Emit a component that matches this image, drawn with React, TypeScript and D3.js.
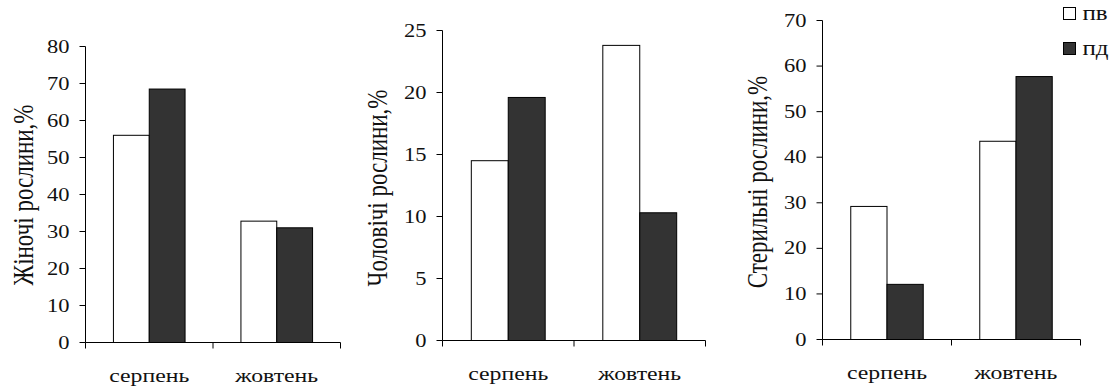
import * as d3 from 'd3';

// дані
const categories = ['серпень', 'жовтень'];
const seriesNames = ['пв', 'пд'];

const femalePv = [56, 32.8];
const femalePd = [68.5, 31.0];
const malePv = [14.5, 23.8];
const malePd = [19.6, 10.3];
const sterilePv = [29.2, 43.5];
const sterilePd = [12.1, 57.7];

const femaleTicks = [0, 10, 20, 30, 40, 50, 60, 70, 80];
const maleTicks = [0, 5, 10, 15, 20, 25];
const sterileTicks = [0, 10, 20, 30, 40, 50, 60, 70];

const FONT = '"Liberation Serif", "Times New Roman", serif';
const SX = 1.25; // картинка розтягнута по горизонталі
const COLORS = ['#ffffff', '#333333'];

const panels = [
  {
    title: 'Жіночі рослини,%',
    values: [femalePv, femalePd],
    ticks: femaleTicks,
    left: 85.5, right: 340.5, top: 46.5, bottom: 342.5,
    titleX: 23, titleY: 195,
  },
  {
    title: 'Чоловічі рослини,%',
    values: [malePv, malePd],
    ticks: maleTicks,
    left: 442.5, right: 705.5, top: 30.5, bottom: 340.5,
    titleX: 377, titleY: 188,
  },
  {
    title: 'Стерильні рослини,%',
    values: [sterilePv, sterilePd],
    ticks: sterileTicks,
    left: 822.5, right: 1080.5, top: 20.5, bottom: 339.5,
    titleX: 757, titleY: 182,
  },
];

function Panel({ p }: { p: (typeof panels)[0] }) {
  const y = d3
    .scaleLinear()
    .domain([0, d3.max(p.ticks) as number])
    .range([p.bottom, p.top]);
  const x = d3.scaleBand<string>().domain(categories).range([p.left, p.right]);
  const xs = d3
    .scaleBand<string>()
    .domain(seriesNames)
    .range([0, x.bandwidth()])
    .paddingInner(0)
    .paddingOuter(0.78);
  const edges = [...categories.map((c) => x(c) as number), p.right];

  return (
    <g>
      {/* бари */}
      {categories.map((c, ci) =>
        seriesNames.map((s, si) => (
          <rect
            key={c + s}
            x={(x(c) as number) + (xs(s) as number)}
            y={y(p.values[si][ci])}
            width={xs.bandwidth()}
            height={p.bottom - y(p.values[si][ci])}
            fill={COLORS[si]}
            stroke="#000"
            strokeWidth={1}
          />
        )),
      )}

      {/* вісь Y */}
      <line x1={p.left} x2={p.left} y1={p.top} y2={p.bottom} stroke="#000" />
      {p.ticks.map((t) => (
        <g key={t}>
          <line x1={p.left - 6} x2={p.left} y1={y(t)} y2={y(t)} stroke="#000" />
          <text
            transform={`translate(${p.left - 16},${y(t)}) scale(${SX},1)`}
            textAnchor="end"
            dy="0.34em"
            fontSize={18}
            fontFamily={FONT}
            fill="#111"
          >
            {t}
          </text>
        </g>
      ))}

      {/* вісь X */}
      <line x1={p.left} x2={p.right} y1={p.bottom} y2={p.bottom} stroke="#000" />
      {edges.map((e, i) => (
        <line key={i} x1={e} x2={e} y1={p.bottom} y2={p.bottom + 6} stroke="#000" />
      ))}
      {categories.map((c) => (
        <text
          key={c}
          transform={`translate(${(x(c) as number) + x.bandwidth() / 2},${p.bottom + 39}) scale(${SX},1)`}
          textAnchor="middle"
          fontSize={19}
          fontFamily={FONT}
          fill="#111"
        >
          {c}
        </text>
      ))}

      {/* назва осі */}
      <text
        transform={`translate(${p.titleX},${p.titleY}) scale(${SX},1) rotate(-90)`}
        textAnchor="middle"
        dy="0.35em"
        fontSize={23}
        fontFamily={FONT}
        fill="#111"
      >
        {p.title}
      </text>
    </g>
  );
}

export default function App() {
  return (
    <svg
      width={1112}
      height={389}
      style={{ position: 'absolute', left: 0, top: 0, background: '#fff' }}
    >
      {panels.map((p) => (
        <Panel key={p.title} p={p} />
      ))}
      {/* легенда */}
      {seriesNames.map((s, i) => (
        <g key={s} transform={`translate(1063.5,${7.5 + i * 35})`}>
          <rect width={12} height={12} fill={COLORS[i]} stroke="#000" />
          <text
            transform={`translate(19,12) scale(${SX},1)`}
            fontSize={20}
            fontFamily={FONT}
            fill="#111"
          >
            {s}
          </text>
        </g>
      ))}
    </svg>
  );
}
